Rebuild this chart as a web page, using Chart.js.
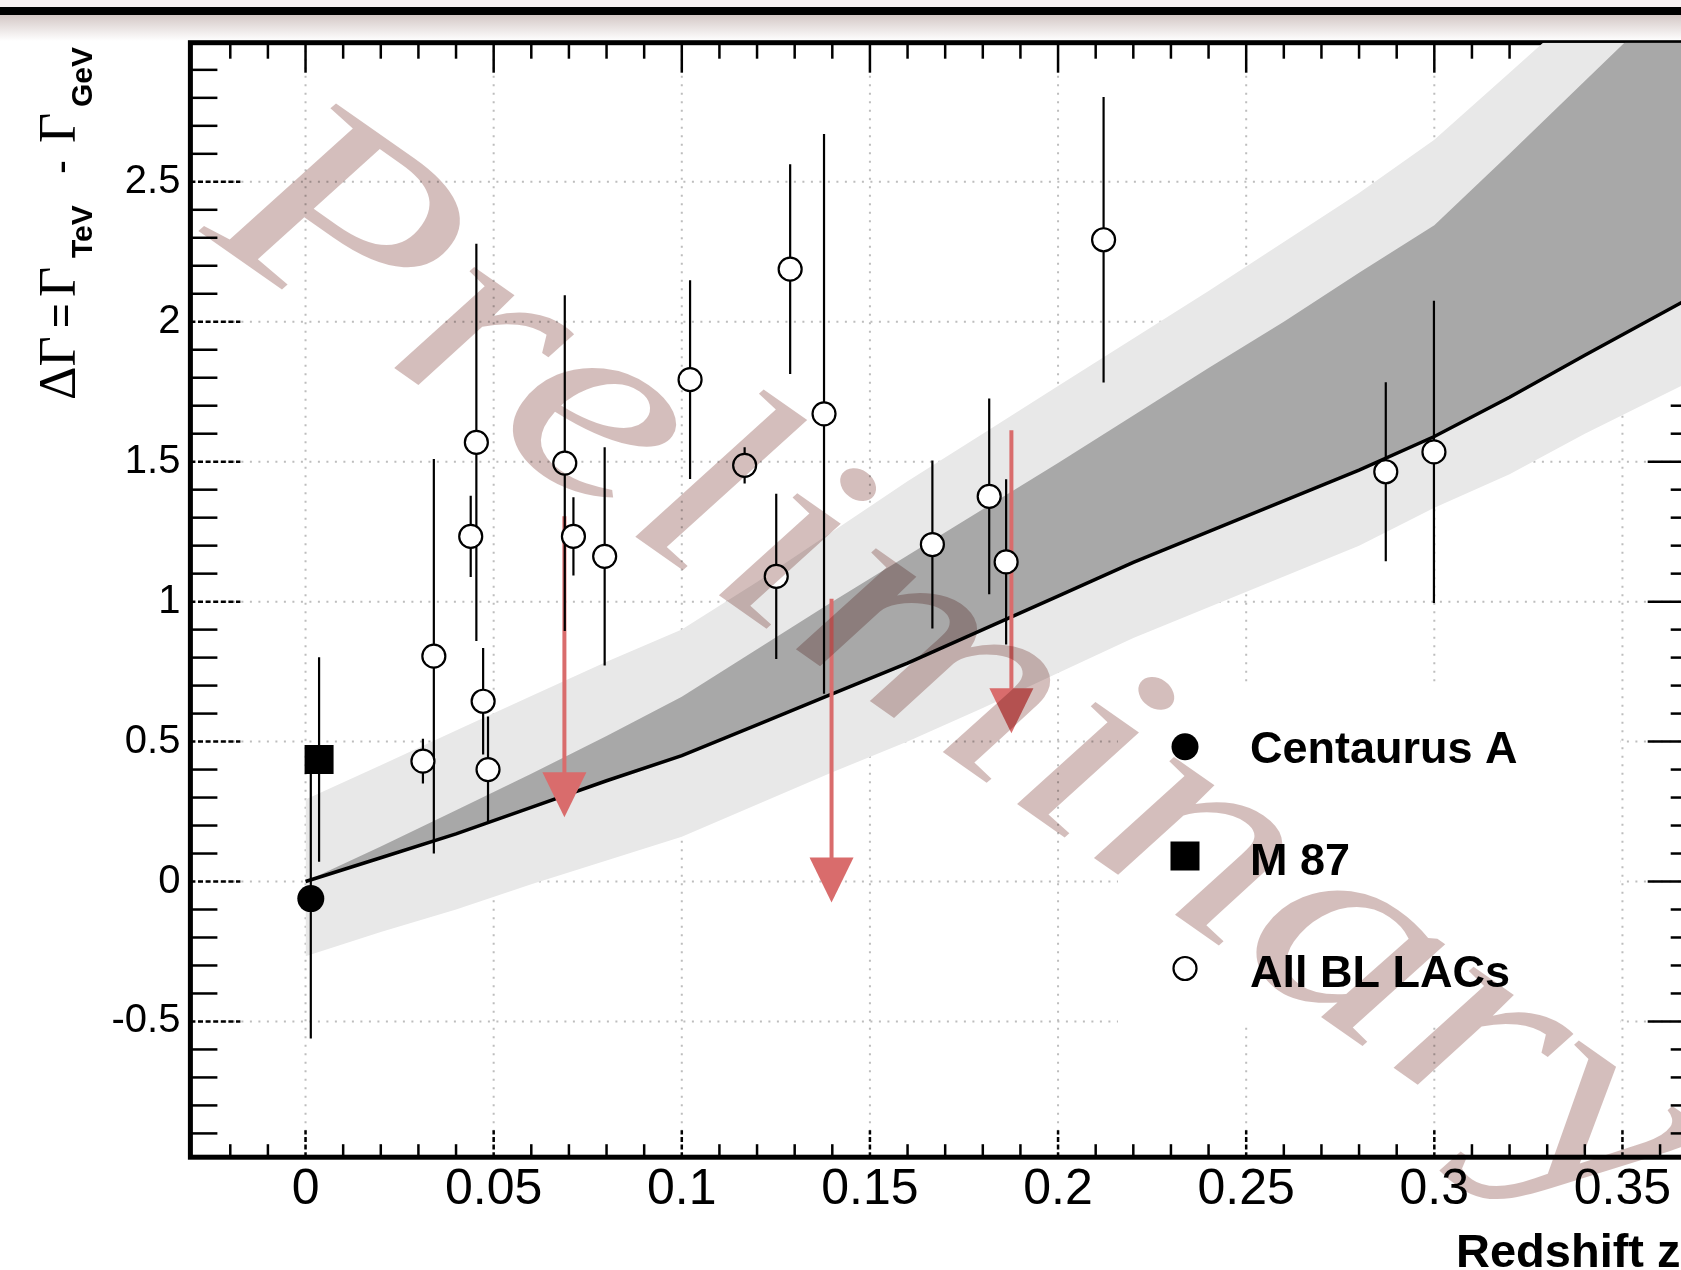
<!DOCTYPE html>
<html>
<head>
<meta charset="utf-8">
<title>Delta Gamma vs redshift</title>
<script src="https://cdn.jsdelivr.net/npm/chart.js@4.4.1/dist/chart.umd.min.js"></script>
<style>
  html, body { margin: 0; padding: 0; overflow: hidden; background: #fff; }
  #wrap { position: relative; width: 1720px; height: 1270px; }
</style>
</head>
<body>
<div id="wrap"><canvas id="chart" width="1720" height="1270"></canvas></div>
<script>
// All BL LACs (open circles)
const blLacZ   = [0.0312, 0.0341, 0.0439, 0.0454, 0.0472, 0.0485, 0.0689, 0.0712, 0.0795, 0.1022,
                  0.1167, 0.1251, 0.1288, 0.1378, 0.1666, 0.1817, 0.1862, 0.2121, 0.2871, 0.2999];
const blLacVal = [0.43, 0.805, 1.233, 1.569, 0.644, 0.40, 1.495, 1.233, 1.162, 1.793,
                  1.487, 1.09, 2.188, 1.671, 1.204, 1.376, 1.142, 2.293, 1.464, 1.535];
const blLacErr = [0.08, 0.705, 0.145, 0.71, 0.19, 0.19, 0.60, 0.14, 0.39, 0.355,
                  0.065, 0.295, 0.375, 1.0, 0.30, 0.35, 0.295, 0.51, 0.32, 0.54];

// Centaurus A and M 87
const cenAZ = [0.0014];
const cenAVal = [-0.061];
const cenAErr = [0.5];
const m87Z = [0.0036];
const m87Val = [0.436];
const m87Err = [0.365];

// upper limits (red arrows): limit value and arrow tip
const limitZ = [0.0688, 0.1398, 0.1876];
const limitVal = [1.305, 1.01, 1.612];
const limitTip = [0.23, -0.075, 0.53];

// model curve and the two bands
const modelZ    = [0, 0.02, 0.04, 0.06, 0.08, 0.1, 0.12, 0.14, 0.16, 0.18, 0.2, 0.22, 0.24, 0.26, 0.28, 0.3, 0.32, 0.34, 0.37];
const modelVal  = [0.0, 0.085, 0.17, 0.265, 0.36, 0.45, 0.56, 0.67, 0.78, 0.90, 1.02, 1.14, 1.25, 1.36, 1.47, 1.59, 1.73, 1.88, 2.10];
const darkTop   = [0.0, 0.125, 0.255, 0.385, 0.52, 0.66, 0.83, 1.00, 1.165, 1.33, 1.495, 1.665, 1.835, 2.0, 2.175, 2.345, 2.60, 2.86, 3.25];
const lightTop  = [0.293, 0.415, 0.54, 0.663, 0.785, 0.90, 1.07, 1.25, 1.43, 1.60, 1.77, 1.94, 2.11, 2.285, 2.46, 2.65, 2.89, 3.13, 3.49];
const lightLow  = [-0.267, -0.18, -0.10, -0.01, 0.075, 0.16, 0.275, 0.39, 0.50, 0.62, 0.745, 0.87, 0.98, 1.09, 1.20, 1.335, 1.455, 1.60, 1.80];

// axes
const xMajorTicks = [0, 0.05, 0.1, 0.15, 0.2, 0.25, 0.3, 0.35];
const xTickLabels = ['0', '0.05', '0.1', '0.15', '0.2', '0.25', '0.3', '0.35'];
const yMajorTicks = [-0.5, 0, 0.5, 1, 1.5, 2, 2.5];
const yTickLabels = ['-0.5', '0', '0.5', '1', '1.5', '2', '2.5'];
const xMin = -0.0306, xMax = 0.37;
const yMin = -0.985, yMax = 2.997;

const legendNames = ['Centaurus A', 'M 87', 'All BL LACs'];

const SANS = '"Liberation Sans", Arial, Helvetica, sans-serif';
const SERIF = '"Liberation Serif", "Times New Roman", serif';

function toPoints(xs, ys) {
    return xs.map((x, i) => ({ x: x, y: ys[i] }));
}

function line(ctx, x1, y1, x2, y2) {
    ctx.beginPath();
    ctx.moveTo(x1, y1);
    ctx.lineTo(x2, y2);
    ctx.stroke();
}

// page header strip above the frame
const headerPlugin = {
    id: 'header',
    beforeDraw(chart) {
        const ctx = chart.ctx;
        const w = chart.width;
        ctx.save();
        ctx.fillStyle = '#fff';
        ctx.fillRect(0, 0, w, chart.height);
        ctx.fillStyle = '#f6f1f1';
        ctx.fillRect(0, 0, w, 7);
        ctx.fillStyle = '#000';
        ctx.fillRect(0, 7, w, 8);
        const g = ctx.createLinearGradient(0, 15, 0, 41);
        g.addColorStop(0, 'rgb(212,200,198)');
        g.addColorStop(1, '#ffffff');
        ctx.fillStyle = g;
        ctx.fillRect(0, 15, w, 26);
        ctx.restore();
    }
};

// ROOT style frame: dotted grid, ticks on all four sides
const framePlugin = {
    id: 'frame',
    beforeDatasetsDraw(chart) {
        const { ctx, chartArea: a, scales: { x, y } } = chart;
        ctx.save();
        ctx.lineCap = 'butt';

        // grid
        ctx.strokeStyle = '#bdbdbd';
        ctx.lineWidth = 2;
        ctx.setLineDash([2, 6.5]);
        xMajorTicks.forEach(v => {
            const p = x.getPixelForValue(v);
            line(ctx, p, a.bottom, p, a.top);
        });
        yMajorTicks.forEach(v => {
            const p = y.getPixelForValue(v);
            line(ctx, a.left, p, a.right, p);
        });

        ctx.strokeStyle = '#000';
        ctx.lineWidth = 2.5;

        // x ticks, every 0.01
        for (let i = -3; i <= 37; i++) {
            const p = x.getPixelForValue(i / 100);
            if (p < a.left + 3 || p > a.right - 3) continue;
            if (i % 5 === 0) {
                ctx.setLineDash([5, 2.6]);
                line(ctx, p, a.bottom, p, a.bottom - 27);
                ctx.setLineDash([]);
                line(ctx, p, a.top, p, a.top + 30);
            } else {
                ctx.setLineDash([]);
                line(ctx, p, a.bottom, p, a.bottom - 13);
                line(ctx, p, a.top, p, a.top + 16);
            }
        }

        // y ticks, every 0.1
        for (let i = -9; i <= 29; i++) {
            const p = y.getPixelForValue(i / 10);
            if (p < a.top + 3 || p > a.bottom - 3) continue;
            if (i % 5 === 0) {
                ctx.setLineDash([5, 2.6]);
                line(ctx, a.left, p, a.left + 50, p);
                ctx.setLineDash([]);
                line(ctx, a.right, p, a.right - 50, p);
            } else {
                ctx.setLineDash([]);
                line(ctx, a.left, p, a.left + 27, p);
                line(ctx, a.right, p, a.right - 27, p);
            }
        }

        // frame
        ctx.setLineDash([]);
        ctx.lineWidth = 5;
        ctx.strokeRect(a.left, a.top, a.right - a.left, a.bottom - a.top);
        ctx.restore();
    }
};

// upper limit arrows and error bars, drawn right after the model curve
const errorPlugin = {
    id: 'errors',
    afterDatasetDraw(chart, args) {
        if (chart.data.datasets[args.index].label !== 'model') return;
        const { ctx, chartArea: a, scales: { x, y } } = chart;
        ctx.save();
        ctx.beginPath();
        ctx.rect(a.left, a.top, a.right - a.left, a.bottom - a.top);
        ctx.clip();

        // red arrows
        ctx.strokeStyle = '#d96c6c';
        ctx.fillStyle = '#d96c6c';
        ctx.lineWidth = 4;
        limitZ.forEach((z, i) => {
            const px = x.getPixelForValue(z);
            const top = y.getPixelForValue(limitVal[i]);
            const tip = y.getPixelForValue(limitTip[i]);
            line(ctx, px, top, px, tip - 44);
            ctx.beginPath();
            ctx.moveTo(px - 22, tip - 45);
            ctx.lineTo(px + 22, tip - 45);
            ctx.lineTo(px, tip);
            ctx.closePath();
            ctx.fill();
        });

        // error bars
        ctx.strokeStyle = '#000';
        ctx.lineWidth = 2.2;
        const bars = [[blLacZ, blLacVal, blLacErr], [cenAZ, cenAVal, cenAErr], [m87Z, m87Val, m87Err]];
        bars.forEach(([zs, vals, errs]) => {
            zs.forEach((z, i) => {
                const px = x.getPixelForValue(z);
                line(ctx, px, y.getPixelForValue(vals[i] - errs[i]), px, y.getPixelForValue(vals[i] + errs[i]));
            });
        });
        ctx.restore();
    }
};

// legend box, axis titles and the watermark
const textPlugin = {
    id: 'texts',
    afterDatasetsDraw(chart) {
        const ctx = chart.ctx;
        ctx.save();
        ctx.fillStyle = '#fff';
        ctx.fillRect(1118, 685, 502, 338);

        const mx = 1185;
        const rows = [746.7, 856, 968.5];
        // Centaurus A
        ctx.fillStyle = '#000';
        ctx.beginPath();
        ctx.arc(mx, rows[0], 13.5, 0, Math.PI * 2);
        ctx.fill();
        // M 87
        ctx.fillRect(mx - 14.5, rows[1] - 14.5, 29, 29);
        // All BL LACs
        ctx.beginPath();
        ctx.arc(mx, rows[2], 11.5, 0, Math.PI * 2);
        ctx.fillStyle = '#fff';
        ctx.fill();
        ctx.lineWidth = 2.2;
        ctx.strokeStyle = '#000';
        ctx.stroke();

        ctx.fillStyle = '#000';
        ctx.font = 'bold 45px ' + SANS;
        ctx.textBaseline = 'alphabetic';
        ctx.textAlign = 'left';
        ctx.fillText(legendNames[0], 1250, 763);
        ctx.fillText(legendNames[1], 1250, 875);
        ctx.fillText(legendNames[2], 1250, 987);
        ctx.restore();
    },
    afterDraw(chart) {
        const ctx = chart.ctx;
        ctx.save();
        ctx.fillStyle = '#000';
        ctx.textAlign = 'left';
        ctx.textBaseline = 'alphabetic';

        // x title
        ctx.font = 'bold 47px ' + SANS;
        ctx.fillText('Redshift z', 1456, 1267);

        // y title, rotated, with subscripts
        ctx.save();
        ctx.translate(74.6, 400);
        ctx.rotate(-Math.PI / 2);
        const parts = [
            { t: '\u0394\u0393', f: '52px ' + SERIF, at: 0, dy: 0 },
            { t: '=', f: '42px ' + SANS, at: 72, dy: 0 },
            { t: '\u0393', f: '52px ' + SERIF, at: 103, dy: 0 },
            { t: 'TeV', f: 'bold 30px ' + SANS, at: 142, dy: 17 },
            { t: '-', f: '42px ' + SANS, at: 226, dy: 0 },
            { t: '\u0393', f: '52px ' + SERIF, at: 257, dy: 0 },
            { t: 'GeV', f: 'bold 30px ' + SANS, at: 293, dy: 17 }
        ];
        parts.forEach(p => {
            ctx.font = p.f;
            ctx.fillText(p.t, p.at, p.dy);
        });
        ctx.restore();

        // watermark
        ctx.globalCompositeOperation = 'multiply';
        ctx.fillStyle = 'rgb(212,190,188)';
        ctx.translate(200, 232);
        ctx.rotate(35 * Math.PI / 180);
        ctx.scale(1.3, 1);
        ctx.font = 'italic 280px ' + SERIF;
        ctx.fillText('Preliminary', 0, 0);
        ctx.restore();
    }
};

const ctx = document.getElementById('chart').getContext('2d');
const chart = new Chart(ctx, {
    type: 'line',
    data: {
        datasets: [
            {
                label: 'light band',
                data: toPoints(modelZ, lightTop),
                borderWidth: 0,
                borderColor: 'rgba(0,0,0,0)',
                pointRadius: 0,
                backgroundColor: '#e8e8e8',
                fill: 1,
                order: 10
            },
            {
                label: 'light band low',
                data: toPoints(modelZ, lightLow),
                borderWidth: 0,
                borderColor: 'rgba(0,0,0,0)',
                pointRadius: 0,
                fill: false,
                order: 9
            },
            {
                label: 'dark band',
                data: toPoints(modelZ, darkTop),
                borderWidth: 0,
                borderColor: 'rgba(0,0,0,0)',
                pointRadius: 0,
                backgroundColor: '#a8a8a8',
                fill: 3,
                order: 8
            },
            {
                label: 'model',
                data: toPoints(modelZ, modelVal),
                borderWidth: 3.5,
                borderColor: '#000',
                pointRadius: 0,
                fill: false,
                order: 7
            },
            {
                label: 'All BL LACs',
                data: toPoints(blLacZ, blLacVal),
                showLine: false,
                pointStyle: 'circle',
                pointRadius: 11.5,
                pointBorderWidth: 2.2,
                pointBorderColor: '#000',
                pointBackgroundColor: '#fff',
                order: 1
            },
            {
                label: 'Centaurus A',
                data: toPoints(cenAZ, cenAVal),
                showLine: false,
                pointStyle: 'circle',
                pointRadius: 13.5,
                pointBorderWidth: 0,
                pointBackgroundColor: '#000',
                order: 2
            },
            {
                label: 'M 87',
                data: toPoints(m87Z, m87Val),
                showLine: false,
                pointStyle: 'rect',
                pointRadius: 20.5,
                pointBorderWidth: 0,
                pointBackgroundColor: '#000',
                order: 2
            }
        ]
    },
    options: {
        responsive: false,
        devicePixelRatio: 1,
        animation: false,
        events: [],
        layout: { autoPadding: false, padding: { top: 42.7, right: 22.3, left: 0, bottom: 0 } },
        plugins: {
            legend: { display: false },
            tooltip: { enabled: false },
            title: { display: false }
        },
        scales: {
            x: {
                type: 'linear',
                min: xMin,
                max: xMax,
                grid: { display: false, drawTicks: false },
                border: { display: false },
                afterBuildTicks: scale => { scale.ticks = xMajorTicks.map(v => ({ value: v })); },
                afterFit: scale => {
                    scale.height = 112.8;
                    scale.paddingLeft = 0;
                    scale.paddingRight = 0;
                },
                ticks: {
                    autoSkip: false,
                    maxRotation: 0,
                    minRotation: 0,
                    padding: 3,
                    color: '#000',
                    font: { family: SANS, size: 50 },
                    callback: (v, i) => xTickLabels[i]
                }
            },
            y: {
                type: 'linear',
                min: yMin,
                max: yMax,
                grid: { display: false, drawTicks: false },
                border: { display: false },
                afterBuildTicks: scale => { scale.ticks = yMajorTicks.map(v => ({ value: v })); },
                afterFit: scale => {
                    scale.width = 190.4;
                    scale.paddingTop = 0;
                    scale.paddingBottom = 0;
                },
                ticks: {
                    autoSkip: false,
                    padding: 10,
                    color: '#000',
                    font: { family: SANS, size: 40 },
                    callback: (v, i) => yTickLabels[i]
                }
            }
        }
    },
    plugins: [headerPlugin, framePlugin, errorPlugin, textPlugin]
});
</script>
</body>
</html>
